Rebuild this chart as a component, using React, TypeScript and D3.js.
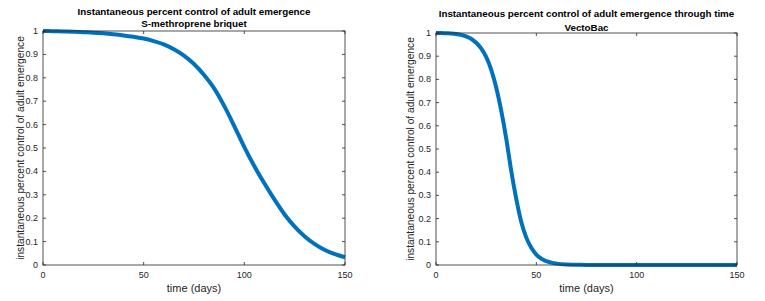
import React from 'react';
import * as d3 from 'd3';

// days and fraction of emergence controlled
const briquetDays = [0, 5, 10, 15, 20, 25, 30, 35, 40, 45, 50, 55, 60, 65, 70, 75, 80, 85, 90, 95, 100, 105, 110, 115, 120, 125, 130, 135, 140, 145, 150];
const briquetControl = [1.0, 0.999, 0.998, 0.997, 0.995, 0.993, 0.99, 0.986, 0.981, 0.975, 0.968, 0.957, 0.943, 0.922, 0.895, 0.859, 0.812, 0.755, 0.68, 0.594, 0.504, 0.422, 0.348, 0.279, 0.216, 0.164, 0.122, 0.089, 0.064, 0.046, 0.033];

const vectoDays = [0, 2.5, 5, 7.5, 10, 12.5, 15, 17.5, 20, 22.5, 25, 27.5, 30, 32.5, 35, 37.5, 40, 42.5, 45, 47.5, 50, 52.5, 55, 57.5, 60, 65, 70, 75, 80, 90, 100, 110, 120, 130, 140, 150];
const vectoControl = [1.0, 1.0, 0.999, 0.998, 0.996, 0.992, 0.985, 0.975, 0.958, 0.934, 0.897, 0.842, 0.765, 0.665, 0.545, 0.405, 0.285, 0.185, 0.118, 0.074, 0.045, 0.027, 0.017, 0.01, 0.006, 0.002, 0.001, 0, 0, 0, 0, 0, 0, 0, 0, 0];

const xTicks = [0, 50, 100, 150];
const yTicks = [0, 0.1, 0.2, 0.3, 0.4, 0.5, 0.6, 0.7, 0.8, 0.9, 1];

const yLabel = 'instantaneous percent control of adult emergence';
const xLabel = 'time (days)';

interface PanelProps {
  days: number[];
  values: number[];
  title: string[];
  left: number;
  right: number;
  top: number;
  bottom: number;
  titleY: number[];
  yLabelX: number;
}

const axisColor = '#262626';
const font = 'Liberation Sans, Arial, Helvetica, sans-serif';

const Panel: React.FC<PanelProps> = ({ days, values, title, left, right, top, bottom, titleY, yLabelX }) => {
  const x = d3.scaleLinear().domain([0, 150]).range([left, right]);
  const y = d3.scaleLinear().domain([0, 1]).range([bottom, top]);
  const pts = days.map((d, i) => [d, values[i]] as [number, number]);
  const line = d3
    .line<[number, number]>()
    .x((d) => x(d[0]))
    .y((d) => y(d[1]))
    .curve(d3.curveMonotoneX);
  const tl = 3;

  return (
    <g fontFamily={font} fill={axisColor}>
      {title.map((t, i) => (
        <text key={t} x={(left + right) / 2} y={titleY[i]} textAnchor="middle" fontSize={9.8} fontWeight="bold" fill="#000">
          {t}
        </text>
      ))}
      <path d={line(pts) ?? ''} fill="none" stroke="#0072BD" strokeWidth={4} strokeLinejoin="round" />
      <rect x={left} y={top} width={right - left} height={bottom - top} fill="none" stroke={axisColor} strokeWidth={0.8} />
      {xTicks.map((t) => (
        <g key={t}>
          <line x1={x(t)} x2={x(t)} y1={bottom} y2={bottom - tl} stroke={axisColor} strokeWidth={0.8} />
          <line x1={x(t)} x2={x(t)} y1={top} y2={top + tl} stroke={axisColor} strokeWidth={0.8} />
          <text x={x(t)} y={bottom + 13} textAnchor="middle" fontSize={9}>
            {t}
          </text>
        </g>
      ))}
      {yTicks.map((t) => (
        <g key={t}>
          <line x1={left} x2={left + tl} y1={y(t)} y2={y(t)} stroke={axisColor} strokeWidth={0.8} />
          <line x1={right} x2={right - tl} y1={y(t)} y2={y(t)} stroke={axisColor} strokeWidth={0.8} />
          <text x={left - 5} y={y(t) + 3} textAnchor="end" fontSize={9}>
            {d3.format('~g')(t)}
          </text>
        </g>
      ))}
      <text x={(left + right) / 2} y={bottom + 27} textAnchor="middle" fontSize={11}>
        {xLabel}
      </text>
      <text
        transform={`translate(${yLabelX},${(top + bottom) / 2}) rotate(-90)`}
        textAnchor="middle"
        dominantBaseline="central"
        fontSize={10.2}
      >
        {yLabel}
      </text>
    </g>
  );
};

export default function App() {
  return (
    <svg width={765} height={301} style={{ position: 'absolute', left: 0, top: 0, background: '#fff' }}>
      <Panel
        days={briquetDays}
        values={briquetControl}
        title={['Instantaneous percent control of adult emergence', 'S-methroprene briquet']}
        left={43}
        right={345}
        top={31}
        bottom={265}
        titleY={[15, 27]}
        yLabelX={20}
      />
      <Panel
        days={vectoDays}
        values={vectoControl}
        title={['Instantaneous percent control of adult emergence through time', 'VectoBac']}
        left={436}
        right={737}
        top={33}
        bottom={265}
        titleY={[17, 31]}
        yLabelX={410}
      />
    </svg>
  );
}
